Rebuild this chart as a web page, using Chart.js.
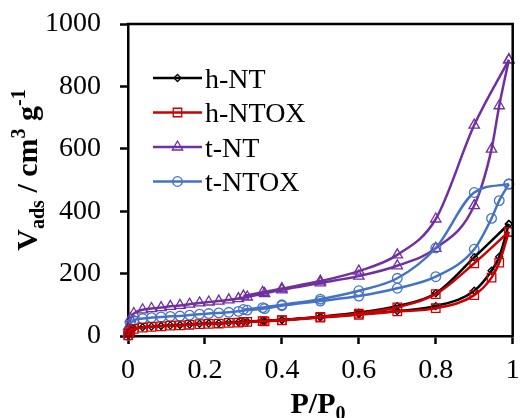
<!DOCTYPE html>
<html><head><meta charset="utf-8">
<script src="https://cdn.jsdelivr.net/npm/chart.js@4/dist/chart.umd.min.js"></script>
<style>html,body{margin:0;padding:0;background:#fff}#wrap{width:520px;height:418px;position:relative}</style>
</head><body><div id="wrap"><canvas id="c" width="520" height="418"></canvas></div>
<script>
// Relative pressure P/P0 – adsorption branch and desorption branch
const pAds = [0.0005, 0.002, 0.006, 0.015, 0.038, 0.061, 0.086, 0.11, 0.135, 0.16, 0.186, 0.21, 0.236, 0.262, 0.287, 0.31, 0.355, 0.40, 0.50, 0.60, 0.70, 0.80, 0.90, 0.945, 0.965, 0.99];
const pDes = [0.30, 0.35, 0.40, 0.50, 0.60, 0.70, 0.80, 0.90, 0.99];

const seriesNames = ["h-NT", "h-NTOX", "t-NT", "t-NTOX"];

const hNT_ads   = [2, 10, 18, 24, 28, 30, 32, 34, 35, 37, 39, 40, 41, 43, 44, 46, 48, 51, 60, 70, 80, 96, 145, 209, 254, 359];
const hNTOX_ads = [2, 9, 17, 23, 27, 29, 31, 33, 34, 36, 38, 39, 40, 42, 43, 45, 47, 50, 59, 68, 79, 89, 131, 187, 235, 334];
const tNT_ads   = [5, 30, 55, 72, 84, 88, 91, 95, 98, 102, 106, 109, 112, 116, 120, 125, 136, 148, 170, 192, 225, 281, 418, 599, 738, 885];
const tNTOX_ads = [2, 18, 38, 50, 56, 59, 61, 63, 64, 67, 70, 72, 74, 76, 79, 83, 88, 97, 112, 128, 153, 190, 278, 377, 434, 487];

const hNT_des   = [46, 49, 52, 62, 75, 96, 137, 252, 359];
const hNTOX_des = [45, 48, 51, 61, 72, 92, 134, 233, 334];
const tNT_des   = [128, 140, 152, 176, 208, 260, 375, 676, 885];
const tNTOX_des = [85, 91, 100, 118, 145, 185, 282, 460, 487];

const xTicks = [0, 0.2, 0.4, 0.6, 0.8, 1];
const yTicks = [0, 200, 400, 600, 800, 1000];

const colors = ["#000000", "#CC0000", "#7030A0", "#4472C4"];
const styles = ["rectRot", "rect", "triangle", "circle"];
const radii  = [3.5, 6, 6, 4.8];
const orders = [2, 1, 4, 3];

const adsSets = [hNT_ads, hNTOX_ads, tNT_ads, tNTOX_ads];
const desSets = [hNT_des, hNTOX_des, tNT_des, tNTOX_des];

function mk(ps, vs) { return ps.map((p, i) => ({x: p, y: vs[i]})); }

const datasets = [];
seriesNames.forEach((name, i) => {
  [[pAds, adsSets[i]], [pDes, desSets[i]]].forEach(([ps, vs], k) => {
    datasets.push({
      label: name + (k ? " des" : " ads"),
      data: mk(ps, vs),
      showLine: true,
      borderColor: colors[i],
      borderWidth: 2.5,
      backgroundColor: colors[i],
      pointStyle: styles[i],
      pointRadius: radii[i],
      pointBorderWidth: 1.3,
      pointBorderColor: colors[i],
      pointBackgroundColor: "rgba(0,0,0,0)",
      cubicInterpolationMode: "monotone",
      order: orders[i],
      clip: false
    });
  });
});

const FONT = "Liberation Serif";

function drawRuns(ctx, runs, cx, baseY) {
  let total = 0;
  runs.forEach(r => { ctx.font = r.f; r.w = ctx.measureText(r.t).width; total += r.w; });
  let x = cx - total / 2;
  ctx.textAlign = "left";
  ctx.textBaseline = "alphabetic";
  runs.forEach(r => { ctx.font = r.f; ctx.fillText(r.t, x, baseY + (r.dy || 0)); x += r.w; });
}

const decor = {
  id: "decor",
  afterDraw(chart) {
    const ctx = chart.ctx, a = chart.chartArea;
    ctx.save();
    // frame top & right
    ctx.strokeStyle = "#000"; ctx.lineWidth = 2.5;
    ctx.beginPath();
    ctx.moveTo(a.left - 1.25, a.top); ctx.lineTo(a.right, a.top); ctx.lineTo(a.right, a.bottom + 1.25);
    ctx.stroke();
    ctx.fillStyle = "#000";
    // x title
    const B = "bold 30px '" + FONT + "'", S = "bold 20px '" + FONT + "'";
    drawRuns(ctx, [{t: "P/P", f: B}, {t: "0", f: S, dy: 7}], 318, 413);
    // y title
    ctx.save();
    ctx.translate(37, 170);
    ctx.rotate(-Math.PI / 2);
    drawRuns(ctx, [
      {t: "V", f: B}, {t: "ads", f: S, dy: 7}, {t: " / cm", f: B}, {t: "3", f: S, dy: -12},
      {t: " g", f: B}, {t: "-1", f: S, dy: -12}
    ], 0, 0);
    ctx.restore();
    // legend
    const rows = [78, 112.5, 147, 181.5];
    seriesNames.forEach((name, i) => {
      const y = rows[i];
      ctx.strokeStyle = colors[i]; ctx.lineWidth = 2.5;
      ctx.beginPath(); ctx.moveTo(153, y); ctx.lineTo(202, y); ctx.stroke();
      ctx.lineWidth = 1.3;
      ctx.fillStyle = "rgba(0,0,0,0)";
      Chart.helpers.drawPoint(ctx, {pointStyle: styles[i], radius: radii[i], rotation: 0, borderWidth: 1.3}, 177.5, y);
      ctx.fillStyle = "#000";
      ctx.font = "28px '" + FONT + "'";
      ctx.textAlign = "left"; ctx.textBaseline = "alphabetic";
      ctx.fillText(name, 205, y + 9.5);
    });
    ctx.restore();
  }
};

new Chart(document.getElementById("c"), {
  type: "scatter",
  data: {datasets},
  plugins: [decor],
  options: {
    responsive: false,
    animation: false,
    devicePixelRatio: 1,
    layout: {padding: {top: 24, right: 3, left: 0, bottom: 0}},
    plugins: {legend: {display: false}, tooltip: {enabled: false}},
    scales: {
      x: {
        type: "linear", min: 0, max: 1,
        afterBuildTicks(s) { s.ticks = xTicks.map(v => ({value: v})); },
        afterFit(s) { s.height = 82; s.paddingLeft = 0; s.paddingRight = 0; },
        ticks: {color: "#000", font: {family: FONT, size: 28}, padding: 10, maxRotation: 0, autoSkip: false,
                callback: v => String(v)},
        grid: {drawOnChartArea: false, drawTicks: true, tickLength: 8, tickWidth: 2.5, tickColor: "#000"},
        border: {display: true, color: "#000", width: 2.5}
      },
      y: {
        type: "linear", min: 0, max: 1000,
        afterBuildTicks(s) { s.ticks = yTicks.map(v => ({value: v})); },
        afterFit(s) { s.width = 128; s.paddingTop = 0; s.paddingBottom = 0; },
        ticks: {color: "#000", font: {family: FONT, size: 28}, padding: 19, autoSkip: false,
                callback: v => String(v)},
        grid: {drawOnChartArea: false, drawTicks: true, tickLength: 8, tickWidth: 2.5, tickColor: "#000"},
        border: {display: true, color: "#000", width: 2.5}
      }
    }
  }
});
</script></body></html>
